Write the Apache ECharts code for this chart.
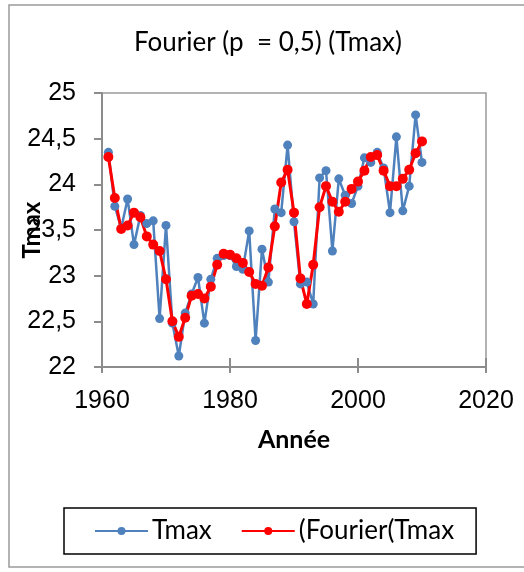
<!DOCTYPE html>
<html>
<head>
<meta charset="utf-8">
<script src="https://cdn.jsdelivr.net/npm/echarts@6/dist/echarts.min.js"></script>
<style>
html, body { margin: 0; padding: 0; background: #fff; }
#chart { width: 524px; height: 572px; }
</style>
</head>
<body>
<div id="chart"></div>
<script>
var years = [1961, 1962, 1963, 1964, 1965, 1966, 1967, 1968, 1969, 1970,
    1971, 1972, 1973, 1974, 1975, 1976, 1977, 1978, 1979, 1980,
    1981, 1982, 1983, 1984, 1985, 1986, 1987, 1988, 1989, 1990,
    1991, 1992, 1993, 1994, 1995, 1996, 1997, 1998, 1999, 2000,
    2001, 2002, 2003, 2004, 2005, 2006, 2007, 2008, 2009, 2010];

var tmax = [24.35, 23.76, 23.52, 23.84, 23.34, 23.66, 23.57, 23.60, 22.53, 23.55,
    22.48, 22.12, 22.59, 22.80, 22.98, 22.48, 22.96, 23.19, 23.22, 23.22,
    23.10, 23.07, 23.49, 22.29, 23.29, 22.93, 23.73, 23.69, 24.43, 23.59,
    22.91, 22.93, 22.69, 24.07, 24.15, 23.27, 24.06, 23.88, 23.79, 23.98,
    24.29, 24.24, 24.35, 24.18, 23.69, 24.52, 23.71, 23.98, 24.76, 24.24];

var fourier = [24.30, 23.85, 23.51, 23.55, 23.69, 23.64, 23.43, 23.34, 23.27, 22.96,
    22.50, 22.33, 22.54, 22.78, 22.80, 22.75, 22.88, 23.12, 23.24, 23.23,
    23.19, 23.14, 23.04, 22.91, 22.89, 23.09, 23.54, 24.02, 24.16, 23.69,
    22.97, 22.69, 23.12, 23.75, 23.98, 23.81, 23.70, 23.81, 23.95, 24.03,
    24.15, 24.30, 24.32, 24.15, 23.98, 23.98, 24.06, 24.16, 24.34, 24.47];

var names = ['Tmax', '(Fourier(Tmax'];

function pairs(xs, ys) {
    var out = [];
    for (var i = 0; i < xs.length; i++) out.push([xs[i], ys[i]]);
    return out;
}

var axisGray = '#8c8c8c';
var calibri = 'Lato, "Noto Sans", sans-serif';
var arial = '"Liberation Sans", Arial, sans-serif';

var option = {
    animation: false,
    backgroundColor: '#fff',
    title: {
        text: 'Fourier (p  = 0,5) (Tmax)',
        left: 268,
        textAlign: 'center',
        top: 30,
        padding: 0,
        textStyle: { fontFamily: calibri, fontSize: 26, fontWeight: 'normal', color: '#000' }
    },
    graphic: [{
        type: 'rect',
        shape: { x: 9, y: 5, width: 600, height: 562 },
        style: { fill: 'none', stroke: '#9a9a9a', lineWidth: 1.5 },
        silent: true
    }],
    legend: {
        data: names,
        left: 64,
        top: 508,
        padding: [10, 22, 10, 30],
        itemWidth: 53,
        itemHeight: 10,
        itemGap: 29,
        borderColor: '#000',
        borderWidth: 1.5,
        textStyle: { fontFamily: calibri, fontSize: 26, color: '#000', padding: [0, 0, 0, -1] }
    },
    grid: {
        left: 102,
        right: 38,
        top: 93,
        bottom: 205,
        show: true,
        borderColor: '#9a9a9a',
        borderWidth: 1.5
    },
    xAxis: [{
        type: 'value',
        min: 1960,
        max: 2020,
        interval: 20,
        name: 'Année',
        nameLocation: 'middle',
        nameGap: 60,
        nameMoveOverlap: false,
        nameTextStyle: { fontFamily: calibri, fontSize: 25, fontWeight: 'bold', color: '#000' },
        axisLine: { lineStyle: { color: axisGray, width: 2 } },
        axisTick: { length: 6, lineStyle: { color: axisGray, width: 2 } },
        axisLabel: {
            margin: 22,
            fontFamily: arial,
            fontSize: 25,
            color: '#000',
            formatter: function(v) { return String(v); }
        },
        splitLine: { show: false }
    }, {
        type: 'value',
        position: 'bottom',
        min: 1960,
        max: 2020,
        interval: 20,
        axisLine: { show: false },
        axisTick: { inside: true, length: 9, lineStyle: { color: axisGray, width: 2 } },
        axisLabel: { show: false },
        splitLine: { show: false }
    }],
    yAxis: {
        type: 'value',
        min: 22,
        max: 25,
        interval: 0.5,
        name: 'Tmax',
        nameLocation: 'middle',
        nameRotate: 90,
        nameGap: 58,
        nameMoveOverlap: false,
        nameTextStyle: { fontFamily: calibri, fontSize: 24, fontWeight: 'bold', color: '#000' },
        axisLine: { show: true, lineStyle: { color: axisGray, width: 2 } },
        axisTick: { show: true, length: 8, lineStyle: { color: axisGray, width: 2 } },
        axisLabel: {
            margin: 26,
            fontFamily: arial,
            fontSize: 25,
            color: '#000',
            formatter: function(v) { return String(v).replace('.', ','); }
        },
        splitLine: { show: false }
    },
    series: [{
        name: names[0],
        type: 'line',
        data: pairs(years, tmax),
        symbol: 'circle',
        symbolSize: 9,
        itemStyle: { color: '#4f81bd' },
        lineStyle: { color: '#4f81bd', width: 2.5 }
    }, {
        name: names[1],
        type: 'line',
        data: pairs(years, fourier),
        symbol: 'circle',
        symbolSize: 10,
        itemStyle: { color: '#ff0000' },
        lineStyle: { color: '#ff0000', width: 3 }
    }]
};

var chart = echarts.init(document.getElementById('chart'));
chart.setOption(option);
</script>
</body>
</html>
